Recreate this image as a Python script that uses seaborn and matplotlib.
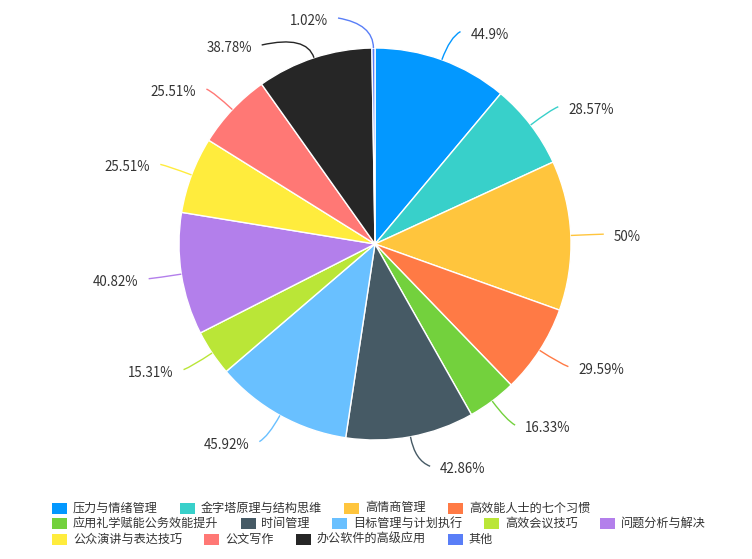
import numpy as np
import matplotlib
matplotlib.use("Agg")
import matplotlib.pyplot as plt
from matplotlib.path import Path
from matplotlib.patches import PathPatch, Rectangle
import seaborn as sns

categories = ["压力与情绪管理", "金字塔原理与结构思维", "高情商管理", "高效能人士的七个习惯",
              "应用礼学赋能公务效能提升", "时间管理", "目标管理与计划执行", "高效会议技巧",
              "问题分析与解决", "公众演讲与表达技巧", "公文写作", "办公软件的高级应用", "其他"]
values = [44.9, 28.57, 50, 29.59, 16.33, 42.86, 45.92, 15.31, 40.82, 25.51, 25.51, 38.78, 1.02]
labels = ["44.9%", "28.57%", "50%", "29.59%", "16.33%", "42.86%", "45.92%", "15.31%",
          "40.82%", "25.51%", "25.51%", "38.78%", "1.02%"]
colors = ["#0398FF", "#38D0CA", "#FFC53D", "#FF7A45", "#73D13D", "#465A65", "#69C0FF",
          "#BAE637", "#B37FEB", "#FFEC3D", "#FF7875", "#262626", "#597EF7"]

sns.set_theme(style="white")
plt.rcParams['font.family'] = ['Noto Sans CJK SC', 'DejaVu Sans']

W, H = 752, 559
CX, CY, R = 375, 244, 196
fig = plt.figure(figsize=(W / 100, H / 100), dpi=100)
ax = fig.add_axes([0, 0, 1, 1])

wedges, _ = ax.pie(values, colors=colors, startangle=90, counterclock=False, radius=1,
                   wedgeprops=dict(edgecolor="white", linewidth=1))
ax.set_aspect("auto")
ax.set_xlim(-CX / R, (W - CX) / R)
ax.set_ylim(-(H - CY) / R, CY / R)
ax.axis("off")

px = 1.0 / R  # one pixel in data units
total = sum(values)
cum = 0
items = []
for v, lab, col in zip(values, labels, colors):
    mid = cum + v / 2
    cum += v
    ang = np.deg2rad(90 - mid / total * 360)
    c, s = np.cos(ang), np.sin(ang)
    side = 1 if c >= 0 else -1
    items.append(dict(c=c, s=s, side=side, y=226 * px * s, lab=lab, col=col))

# simple overlap avoidance per side (push downwards)
min_gap = 27 * px
for side in (1, -1):
    grp = sorted([it for it in items if it["side"] == side], key=lambda d: -d["y"])
    for a, b in zip(grp[:-1], grp[1:]):
        if a["y"] - b["y"] < min_gap:
            b["y"] = a["y"] - min_gap

lab_fs = 9.6
for it in items:
    c, s, side, y = it["c"], it["s"], it["side"], it["y"]
    p0 = np.array([c, s])
    p1 = np.array([c, s]) * (220 * px)
    rho = 229 * px
    xe = side * np.sqrt(max(rho ** 2 - y ** 2, 0))
    if side * xe < side * p1[0] + 4 * px:
        xe = p1[0] + side * 4 * px
    p2 = np.array([xe, y])
    path = Path([p0, p1, p2], [Path.MOVETO, Path.CURVE3, Path.CURVE3])
    ax.add_patch(PathPatch(path, fill=False, edgecolor=it["col"], lw=1))
    ax.text(xe + side * 10 * px, y - 3 * px, it["lab"], ha="left" if side > 0 else "right",
            va="center", fontsize=lab_fs, color="#333333")

# legend rows
rows = [list(range(0, 4)), list(range(4, 9)), list(range(9, 13))]
row_y = [508, 523, 539]
fs = 8.7
fig.canvas.draw()
renderer = fig.canvas.get_renderer()
for row, ypx in zip(rows, row_y):
    xpx = 52
    for i in row:
        x0 = (xpx - CX) / R
        yc = (CY - ypx) / R
        ax.add_patch(Rectangle((x0, yc - 5.5 / R), 15 / R, 11 / R, facecolor=colors[i],
                               edgecolor="none"))
        t = ax.text((xpx + 21 - CX) / R, yc, categories[i], ha="left", va="center",
                    fontsize=fs, color="#333333")
        bb = t.get_window_extent(renderer=renderer)
        xpx = xpx + 21 + bb.width + 22

fig.savefig("out.png", dpi=100)
